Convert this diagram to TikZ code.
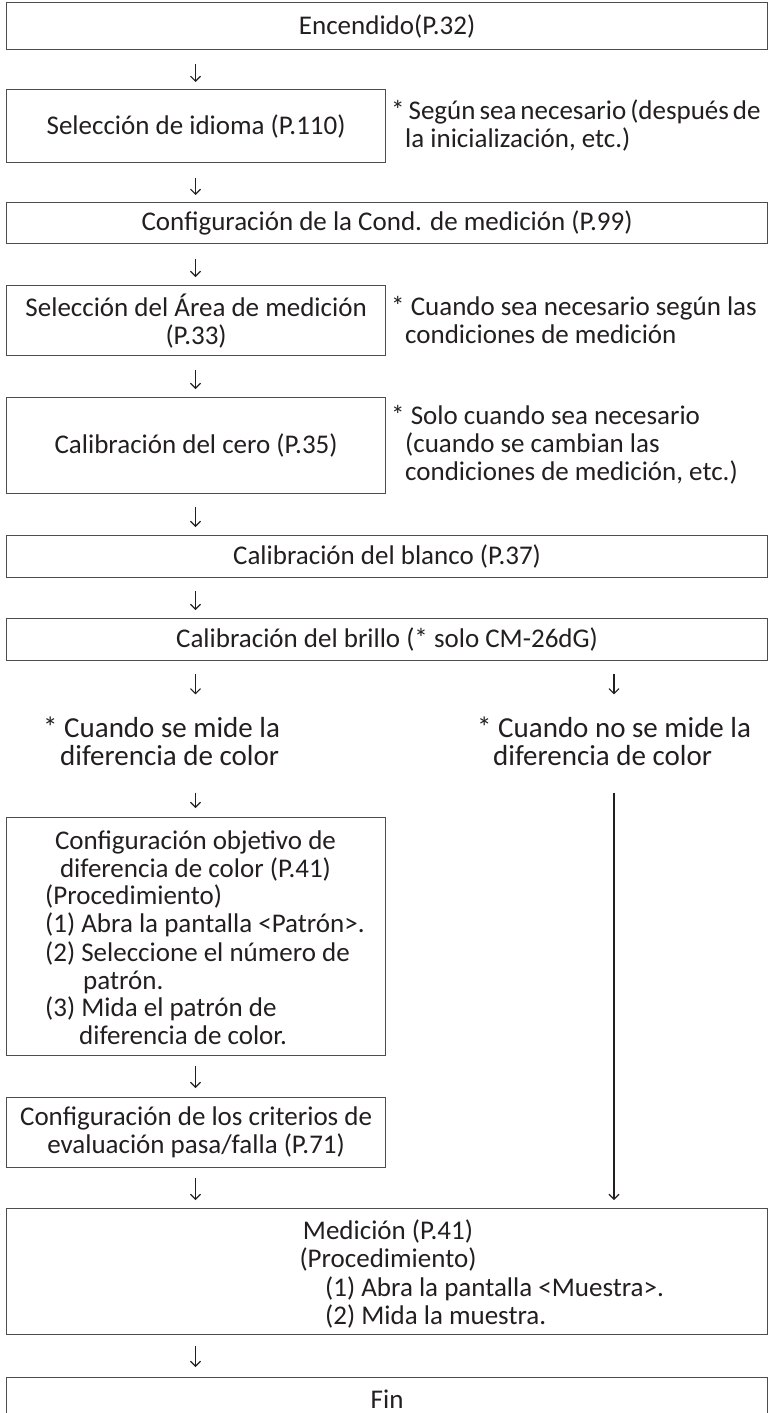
\documentclass[tikz,border=0pt]{standalone}
\usepackage{fontspec}
\setmainfont{Carlito}
\usetikzlibrary{arrows.meta}
\definecolor{ink}{HTML}{231F20}
\definecolor{edge}{HTML}{4D4D4D}
\newcommand{\bfnt}{\fontsize{27pt}{28pt}\selectfont}
\newcommand{\hfnt}{\fontsize{29pt}{28pt}\selectfont}
\begin{document}
\begin{tikzpicture}[x=1pt,y=-1pt,
  every node/.style={text=ink,font=\bfnt},
  full/.style={draw=edge,line width=1.2pt,anchor=north west,minimum width=761pt,inner sep=2pt,align=center},
  half/.style={full,minimum width=379pt},
  txt/.style={inner sep=0pt},
  note/.style={inner sep=0pt,align=left,anchor=west},
  heading/.style={note,font=\hfnt},
  arr/.style={draw=ink,line width=1.1pt,-{Straight Barb[length=5pt,width=10pt]}},
]
\clip (0,0) rectangle (770,1413);
\fill[white] (0,0) rectangle (770,1413);
\coordinate (cl) at (195.5,0);
\coordinate (cr) at (614,0);
% boxes
\node[full,minimum height=47pt] (b1) at (6,2) {Encendido(P.32)};
\node[half,minimum height=73pt] (b2) at (6,89) {Selección de idioma (P.110)};
\node[full,minimum height=41pt] (b3) at (6,202) {Configuración de la Cond. de medición (P.99)};
\node[half,minimum height=70pt] (b4) at (6,285) {Selección del Área de medición\\(P.33)};
\node[half,minimum height=96pt] (b5) at (6,397) {Calibración del cero (P.35)};
\node[full,minimum height=42pt] (b6) at (6,535) {Calibración del blanco (P.37)};
\node[full,minimum height=42pt] (b7) at (6,618) {Calibración del brillo (* solo CM-26dG)};
\node[half,minimum height=238pt] (b8) at (6,817) {};
\node[half,minimum height=70pt] (b9) at (6,1097) {Configuración de los criterios de\\evaluación pasa/falla (P.71)};
\node[full,minimum height=126pt] (b10) at (6,1208) {};
\node[full,minimum height=43pt] (b11) at (6,1377) {Fin};
% notes
\node[note] (n1) at (391,125.5) {{\spaceskip=4pt plus 1pt minus 1pt * Según sea necesario (después de}\\\hspace*{14pt}la inicialización, etc.)};
\node[note] (n2) at (391,320) {* Cuando sea necesario según las\\\hspace*{14pt}condiciones de medición};
\node[note] (n3) at (391,445) {* Solo cuando sea necesario\\\hspace*{14pt}(cuando se cambian las\\\hspace*{14pt}condiciones de medición, etc.)};
% branch headings
\node[heading] (hL) at (43,741) {* Cuando se mide la\\\hspace*{17pt}diferencia de color};
\node[heading] (hR) at (477,741) {* Cuando no se mide la\\\hspace*{16pt}diferencia de color};
% box 8 contents
\node[txt,anchor=base] (b8l1) at (195.5,849) {Configuración objetivo de};
\node[txt,anchor=base] (b8l2) at (195.5,877) {diferencia de color (P.41)};
\node[txt,anchor=base west] (b8l3) at (45,904) {(Procedimiento)};
\node[txt,anchor=base west] (b8l4) at (45,932) {(1) Abra la pantalla <Patrón>.};
\node[txt,anchor=base west] (b8l5) at (45,961) {(2) Seleccione el número de};
\node[txt,anchor=base west] (b8l6) at (83,989) {patrón.};
\node[txt,anchor=base west] (b8l7) at (45,1016) {(3) Mida el patrón de};
\node[txt,anchor=base west] (b8l8) at (79,1044) {diferencia de color.};
% box 10 contents
\node[txt,anchor=base] (b10l1) at (388,1239) {Medición (P.41)};
\node[txt,anchor=base] (b10l2) at (388,1267) {(Procedimiento)};
\node[txt,anchor=base west] (b10l3) at (325,1296) {(1) Abra la pantalla <Muestra>.};
\node[txt,anchor=base west] (b10l4) at (325,1324) {(2) Mida la muestra.};
% connectors
\draw[arr,shorten <=14pt,shorten >=7pt] (b1.south -| cl) -- (b2.north -| cl);
\draw[arr,shorten <=15pt,shorten >=7pt] (b2.south -| cl) -- (b3.north -| cl);
\draw[arr,shorten <=15pt,shorten >=8pt] (b3.south -| cl) -- (b4.north -| cl);
\draw[arr,shorten <=14pt,shorten >=8pt] (b4.south -| cl) -- (b5.north -| cl);
\draw[arr,shorten <=13pt,shorten >=8pt] (b5.south -| cl) -- (b6.north -| cl);
\draw[arr,shorten <=13pt,shorten >=8pt] (b6.south -| cl) -- (b7.north -| cl);
\draw[arr,shorten <=13pt,shorten >=22pt] (b7.south -| cl) -- (hL.north -| cl);
\draw[arr,shorten <=13pt,shorten >=22pt] (b7.south -| cr) -- (hR.north -| cr);
\draw[arr,shorten <=27pt,shorten >=9pt] (hL.south -| cl) -- (b8.north -| cl);
\draw[arr,shorten <=27pt,shorten >=8pt] (hR.south -| cr) -- (b10.north -| cr);
\draw[arr,shorten <=10pt,shorten >=9pt] (b8.south -| cl) -- (b9.north -| cl);
\draw[arr,shorten <=10pt,shorten >=8pt] (b9.south -| cl) -- (b10.north -| cl);
\draw[arr,shorten <=11pt,shorten >=10pt] (b10.south -| cl) -- (b11.north -| cl);
\end{tikzpicture}
\end{document}
